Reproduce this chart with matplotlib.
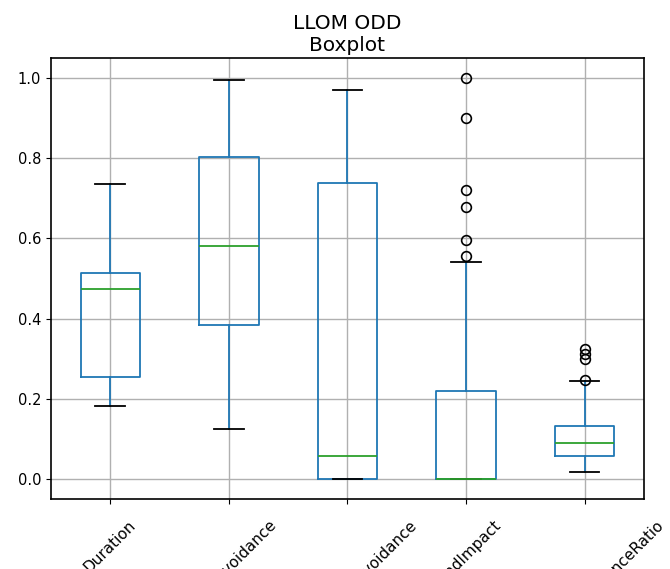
import matplotlib
matplotlib.use("Agg")
import matplotlib.pyplot as plt

# ODD metric summary statistics (five-number summaries + outliers)
metrics = ["Duration", "ObjectAvoidance", "StaticObstacleAvoidance",
           "WindImpact", "SpeedLimitComplianceRatio"]
whisker_low  = [0.182, 0.124, 0.000, 0.000, 0.018]
q1           = [0.254, 0.383, 0.000, 0.000, 0.057]
medians      = [0.475, 0.580, 0.057, 0.000, 0.090]
q3           = [0.515, 0.803, 0.739, 0.219, 0.132]
whisker_high = [0.736, 0.995, 0.970, 0.542, 0.244]
outliers     = [[], [], [],
                [1.000, 0.900, 0.720, 0.679, 0.597, 0.556],
                [0.248, 0.299, 0.311, 0.324]]

stats = []
for name, lo, a, m, b, hi, fl in zip(metrics, whisker_low, q1, medians, q3,
                                     whisker_high, outliers):
    stats.append(dict(label=name, whislo=lo, q1=a, med=m, q3=b,
                      whishi=hi, fliers=fl))

plt.rcParams["axes.linewidth"] = 1.2
plt.rcParams["grid.linewidth"] = 1.0

fig = plt.figure(figsize=(6.7, 5.69), dpi=100)
ax = fig.add_axes([0.0761, 0.123, 0.885, 0.775])

lw = 1.3
ax.bxp(stats,
       boxprops=dict(color="C0", linewidth=lw),
       whiskerprops=dict(color="C0", linewidth=lw),
       capprops=dict(color="k", linewidth=lw),
       medianprops=dict(color="C2", linewidth=lw),
       flierprops=dict(marker="o", markeredgecolor="k",
                       markerfacecolor="none", markersize=7,
                       markeredgewidth=1.2))
ax.grid(True)
ax.set_ylim(-0.05, 1.05)
ax.set_xticks(range(1, len(metrics) + 1), metrics, rotation=45)
ax.tick_params(axis="x", pad=10, labelsize=11)
ax.tick_params(axis="y", labelsize=10.5)
ax.set_title("LLOM ODD\nBoxplot", fontsize=14.5, pad=5)

fig.savefig("out.png", dpi=100)
